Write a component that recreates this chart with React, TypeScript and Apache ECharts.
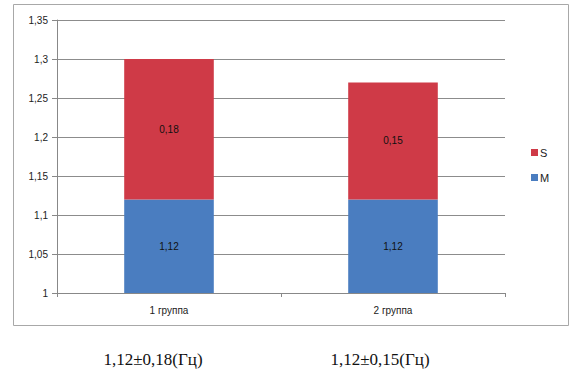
import React, { useEffect, useRef } from "react";
import * as echarts from "echarts";

const categories = ["1 группа", "2 группа"];
const mValues = [1.12, 1.12];
const sValues = [0.18, 0.15];
const footnotes = ["1,12±0,18(Гц)", "1,12±0,15(Гц)"];

const fmt = (v: number) => String(v).replace(".", ",");

export default function App() {
  const ref = useRef<HTMLDivElement>(null);
  useEffect(() => {
    const chart = echarts.init(ref.current!, undefined, { renderer: "svg" });
    const labelStyle = {
      show: true,
      position: "inside" as const,
      color: "#111",
      fontSize: 10,
      fontFamily: "Liberation Sans, Arial, sans-serif",
      formatter: (p: any) => fmt(p.value),
    };
    chart.setOption({
      animation: false,
      backgroundColor: "#fff",
      grid: { left: 57, right: 75, top: 20, bottom: 87 },
      legend: {
        orient: "vertical",
        left: 526,
        top: 142,
        itemWidth: 7,
        itemHeight: 7,
        itemGap: 14,
        icon: "rect",
        data: ["S", "M"],
        textStyle: { fontSize: 11, color: "#222", fontFamily: "Liberation Sans, Arial, sans-serif", padding: [0, 0, 0, -3] },
      },
      xAxis: {
        type: "category",
        data: categories,
        axisLine: { lineStyle: { color: "#888" } },
        axisTick: { show: true, length: 4, lineStyle: { color: "#888" } },
        axisLabel: { fontSize: 10, color: "#222", margin: 12, fontFamily: "Liberation Sans, Arial, sans-serif" },
      },
      yAxis: {
        type: "value",
        min: 1,
        max: 1.35,
        interval: 0.05,
        axisLine: { show: true, lineStyle: { color: "#888" } },
        axisTick: { show: true, length: 5, lineStyle: { color: "#888" } },
        splitLine: { lineStyle: { color: "#8c8c8c" } },
        axisLabel: {
          fontSize: 10,
          color: "#222",
          margin: 9,
          fontFamily: "Liberation Sans, Arial, sans-serif",
          formatter: (v: number) => fmt(Math.round(v * 100) / 100),
        },
      },
      series: [
        {
          name: "M",
          type: "bar",
          stack: "total",
          data: mValues,
          barWidth: "40%",
          itemStyle: { color: "#4a7dc0" },
          label: labelStyle,
        },
        {
          name: "S",
          type: "bar",
          stack: "total",
          data: sValues,
          barWidth: "40%",
          itemStyle: { color: "#cf3a47" },
          label: labelStyle,
        },
      ],
      graphic: [
        {
          type: "rect",
          shape: { x: 13.5, y: 4.5, width: 555, height: 321 },
          style: { fill: "none", stroke: "#a8a8a8", lineWidth: 1 },
          silent: true,
          z: -1,
        },
        ...footnotes.map((t, i) => ({
          type: "text",
          x: [153, 380][i],
          y: 359,
          style: {
            text: t,
            fontSize: 17,
            fontFamily: "Liberation Serif, Times New Roman, serif",
            fill: "#111",
            textAlign: "center",
            textVerticalAlign: "middle",
          },
        })),
      ],
    });
    return () => chart.dispose();
  }, []);
  return (
    <div
      ref={ref}
      style={{ position: "fixed", left: 0, top: 0, width: 580, height: 380 }}
    />
  );
}
